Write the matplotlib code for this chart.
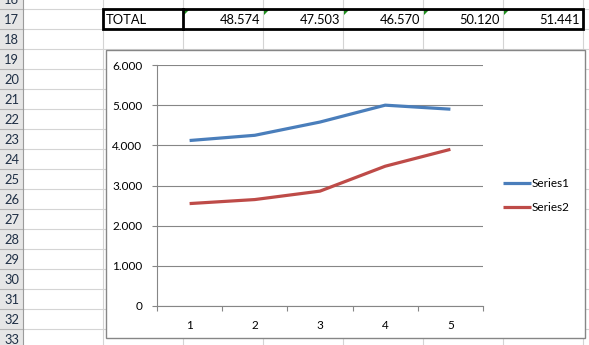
import matplotlib
matplotlib.use('Agg')
import matplotlib.pyplot as plt
from matplotlib.patches import Rectangle, Polygon
from matplotlib.ticker import FuncFormatter, FixedLocator, NullFormatter

# data
categories = [1, 2, 3, 4, 5]
series1 = [4120, 4250, 4580, 5000, 4900]
series2 = [2550, 2650, 2860, 3480, 3900]
series_names = ['Series1', 'Series2']
totals = [48574, 47503, 46570, 50120, 51441]
total_label = 'TOTAL'
row_numbers = list(range(16, 34))

plt.rcParams['font.family'] = ['Lato', 'DejaVu Sans']


def dots(v, pos=None):
    # european thousands separator, like the sheet
    return f'{int(round(v)):,}'.replace(',', '.')


fig = plt.figure(figsize=(5.89, 3.45), dpi=100)

# ---- spreadsheet background, drawn in pixel coords ----
bg = fig.add_axes([0, 0, 1, 1])
bg.set_xlim(0, 589)
bg.set_ylim(345, 0)
bg.axis('off')

grid = '#d4d4d4'
head_w = 23
bg.add_patch(Rectangle((0, 0), head_w, 345, facecolor='#e6e6e6', edgecolor='none', zorder=0))
for r in row_numbers:
    top = 9 + 20 * (r - 17)
    bg.plot([head_w, 589], [top, top], color=grid, lw=0.8, zorder=1)
    bg.plot([0, head_w], [top, top], color='#b5b5b5', lw=0.8, zorder=1)
    bg.text(head_w / 2, top + 10.5, str(r), ha='center', va='center', fontsize=9.3,
            color='#1f2f45', zorder=2, clip_on=True)
bg.plot([head_w, head_w], [0, 345], color='#9b9b9b', lw=0.8, zorder=1)
col_edges = [103, 183, 263, 343, 423, 503, 583]
for x in col_edges:
    bg.plot([x, x], [0, 345], color=grid, lw=0.8, zorder=1)

# TOTAL row
bg.text(106, 19.5, total_label, ha='left', va='center', fontsize=9.3, color='black', zorder=3)
for i, t in enumerate(totals):
    right = col_edges[i + 2]
    bg.text(right - 3, 19.5, dots(t), ha='right', va='center', fontsize=9.3, color='black', zorder=3)
    left = col_edges[i + 1]
    bg.add_patch(Polygon([(left + 1, 10), (left + 6, 10), (left + 1, 15)], closed=True,
                         facecolor='#1f8f1f', edgecolor='none', zorder=4))
bg.add_patch(Rectangle((103, 8.5), 480, 20.5, facecolor='none', edgecolor='black', lw=2.0, zorder=5))
bg.plot([183, 183], [8.5, 29], color='black', lw=2.0, zorder=5)

# chart box
bg.add_patch(Rectangle((106, 50), 479, 288, facecolor='white', edgecolor='#868686', lw=1.0, zorder=6))

# ---- the line chart ----
gray = '#868686'
ax = fig.add_axes([157 / 589, 1 - 306 / 345, 326 / 589, 241 / 345])
ax.set_facecolor('none')
l1, = ax.plot(categories, series1, color='#4a7ebb', lw=2.3, solid_capstyle='butt')
l2, = ax.plot(categories, series2, color='#be4b48', lw=2.3, solid_capstyle='butt')

ax.set_xlim(0.5, 5.5)
ax.set_ylim(0, 6000)
ax.set_yticks(range(0, 7000, 1000))
ax.yaxis.set_major_formatter(FuncFormatter(dots))
ax.yaxis.grid(True, color=gray, lw=0.8)
ax.set_axisbelow(True)

ax.xaxis.set_major_locator(FixedLocator(categories))
ax.xaxis.set_minor_locator(FixedLocator([c - 0.5 for c in categories] + [5.5]))
ax.xaxis.set_minor_formatter(NullFormatter())
ax.tick_params(axis='x', which='major', length=0, pad=10, labelsize=8.5)
ax.tick_params(axis='x', which='minor', length=3.5, color=gray, width=0.8, direction='out')
ax.tick_params(axis='y', length=3.5, color=gray, width=0.8, pad=7, labelsize=8.5)

for s in ['top', 'right']:
    ax.spines[s].set_visible(False)
for s in ['left', 'bottom']:
    ax.spines[s].set_color(gray)
    ax.spines[s].set_linewidth(0.8)

fig.legend([l1, l2], series_names, loc='center left', bbox_to_anchor=(503 / 589, 1 - 195.5 / 345),
           frameon=False, fontsize=8.5, handlelength=2.35, handletextpad=0.1, labelspacing=1.1,
           borderpad=0, borderaxespad=0)

fig.savefig('out.png', dpi=100)
